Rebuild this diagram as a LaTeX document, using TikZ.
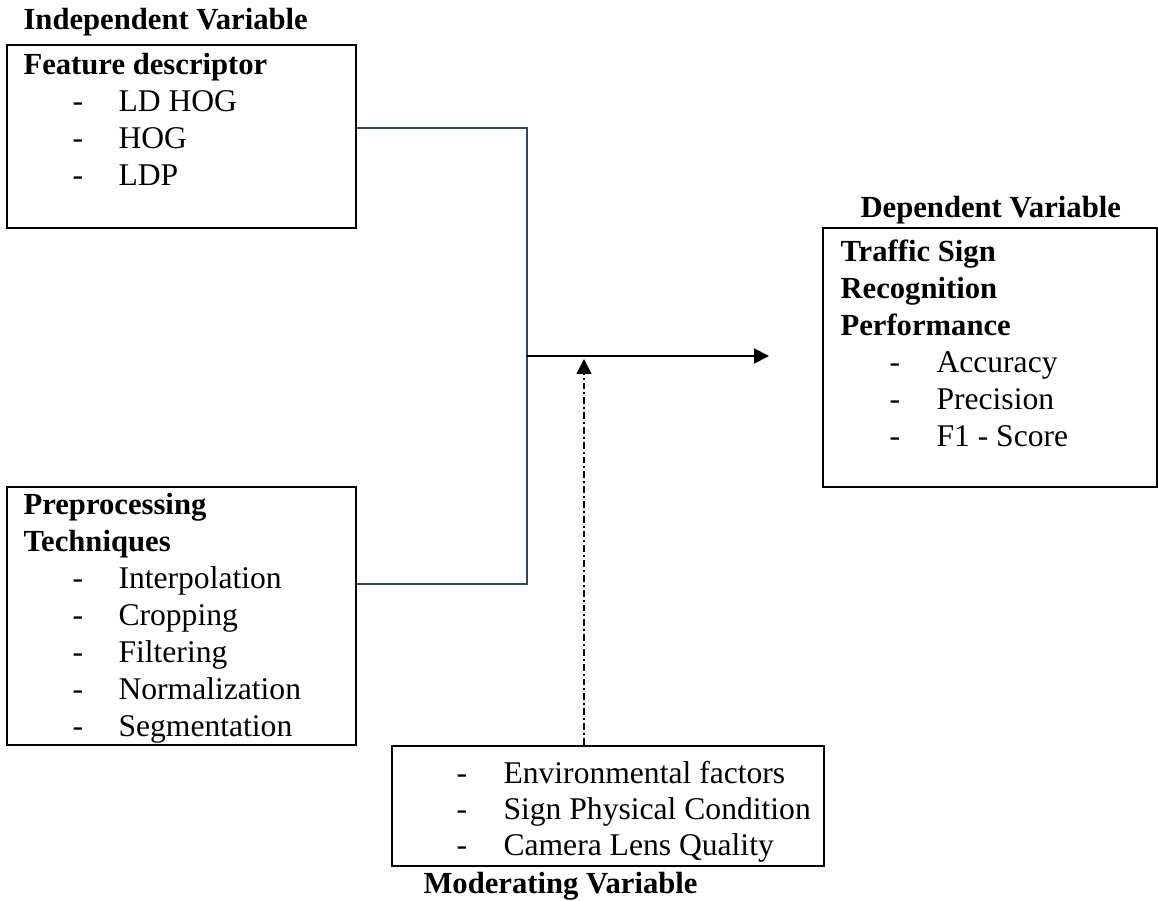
\documentclass[tikz,border=0pt]{standalone}
\usepackage{fontspec}
\setmainfont{Liberation Serif}
\usetikzlibrary{arrows.meta,fit}

\definecolor{linkblue}{RGB}{46,70,98}

\begin{document}
\begin{tikzpicture}[
  x=0.375pt, y=-0.375pt,
  every node/.style={font=\fontsize{11.85pt}{13.8pt}\selectfont},
  box/.style={draw=black, line width=1pt, inner sep=0pt, fit={#1}},
  txt/.style={anchor=base west, inner sep=0pt},
  head/.style={txt, font=\fontsize{11.5pt}{13.8pt}\selectfont\bfseries},
  bullet/.style={txt},
  linkline/.style={draw=linkblue, line width=1.1pt},
  flowarrow/.style={draw=black, line width=0.75pt, -{Triangle[length=5.6pt,width=5.6pt]}},
  modarrow/.style={draw=black, line width=0.5pt,
    dash pattern=on 2.6pt off 1.1pt on 0.75pt off 1.1pt,
    -{Triangle[length=5.6pt,width=5.6pt]}}
]
\useasboundingbox[fill=white] (0,0) rectangle (1158,901);

% ---- boxes ----
\node[box={(7,45) (356,228)}] (fd) {};
\node[box={(7,487) (356,745)}] (pp) {};
\node[box={(823,228) (1157,487)}] (dv) {};
\node[box={(392,746) (824,866)}] (mv) {};

% ---- independent variables ----
\node[head] (indtitle) at (23,30) {Independent Variable};
\node[head] (fdhead) at (23,75) {Feature descriptor};
\node[bullet] (fd1d) at (72,112) {-};
\node[bullet] (fd1) at (118,112) {LD HOG};
\node[bullet] (fd2d) at (72,149) {-};
\node[bullet] (fd2) at (118,149) {HOG};
\node[bullet] (fd3d) at (72,186) {-};
\node[bullet] (fd3) at (118,186) {LDP};

\node[head] (pphead1) at (23,515) {Preprocessing};
\node[head] (pphead2) at (23,552) {Techniques};
\node[bullet] (pp1d) at (72,589) {-};
\node[bullet] (pp1) at (118,589) {Interpolation};
\node[bullet] (pp2d) at (72,626) {-};
\node[bullet] (pp2) at (118,626) {Cropping};
\node[bullet] (pp3d) at (72,663) {-};
\node[bullet] (pp3) at (118,663) {Filtering};
\node[bullet] (pp4d) at (72,700) {-};
\node[bullet] (pp4) at (118,700) {Normalization};
\node[bullet] (pp5d) at (72,737) {-};
\node[bullet] (pp5) at (118,737) {Segmentation};

% ---- dependent variable ----
\node[head] (deptitle) at (860,218) {Dependent Variable};
\node[head] (dvhead1) at (840,262) {Traffic Sign};
\node[head] (dvhead2) at (840,299) {Recognition};
\node[head] (dvhead3) at (840,336) {Performance};
\node[bullet] (dv1d) at (889,373) {-};
\node[bullet] (dv1) at (936,373) {Accuracy};
\node[bullet] (dv2d) at (889,410) {-};
\node[bullet] (dv2) at (936,410) {Precision};
\node[bullet] (dv3d) at (889,447) {-};
\node[bullet] (dv3) at (936,447) {F1 - Score};

% ---- moderating variable ----
\node[bullet] (mv1d) at (456,784) {-};
\node[bullet] (mv1) at (503,784) {Environmental factors};
\node[bullet] (mv2d) at (456,820) {-};
\node[bullet] (mv2) at (503,820) {Sign Physical Condition};
\node[bullet] (mv3d) at (456,856) {-};
\node[bullet] (mv3) at (503,856) {Camera Lens Quality};
\node[head] (modtitle) at (423,894) {Moderating Variable};

% ---- connectors ----
\coordinate (jtop) at (527,128);
\coordinate (jmid) at (527,356);
\coordinate (jbot) at (527,584);
\coordinate (arrowend) at (769,356);
\coordinate (modtip) at (584,359);

\draw[linkline] (fd.east |- jtop) -- (jtop) -- (jbot) -- (pp.east |- jbot);
\draw[flowarrow] (jmid) -- (arrowend);
\draw[modarrow] (mv.north -| modtip) -- (modtip);
\end{tikzpicture}
\end{document}
